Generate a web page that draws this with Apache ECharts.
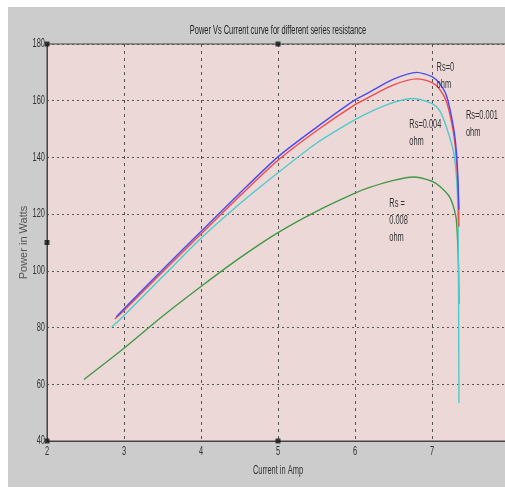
<!DOCTYPE html>
<html>
<head>
<meta charset="utf-8">
<script src="https://cdn.jsdelivr.net/npm/echarts@6/dist/echarts.min.js"></script>
<style>
  html, body { margin: 0; padding: 0; background: #ffffff; width: 505px; height: 491px; overflow: hidden; }
  #chart { position: absolute; left: 8px; top: 7px; width: 497px; height: 480px; }
</style>
</head>
<body>
<div id="chart"></div>
<script>
// Power (W) against current (A) for four series resistances
const rs0 = [
  [2.90, 83.8], [3.0, 86.6], [3.5, 100.4], [4.0, 113.9], [4.5, 127.3], [5.0, 140.2],
  [5.5, 150.6], [6.0, 160.3], [6.2, 163.2], [6.5, 167.6], [6.8, 170.0], [7.0, 168.5],
  [7.1, 166.0], [7.19, 161.6], [7.28, 150.5], [7.32, 141.0], [7.34, 130.5], [7.35, 121.5]
];
const rs0001 = [
  [2.88, 83.0], [3.0, 86.0], [3.5, 99.6], [4.0, 113.0], [4.5, 126.3], [5.0, 139.0],
  [5.5, 149.4], [6.0, 158.6], [6.2, 161.5], [6.5, 165.6], [6.8, 167.7], [7.0, 166.4],
  [7.1, 164.0], [7.19, 159.5], [7.28, 148.5], [7.32, 138.5], [7.34, 127.0], [7.35, 115.6]
];
const rs0004 = [
  [2.84, 80.2], [3.0, 84.2], [3.5, 97.9], [4.0, 111.5], [4.5, 123.6], [5.0, 134.6],
  [5.5, 145.0], [6.0, 153.3], [6.2, 156.1], [6.5, 159.4], [6.76, 160.8], [7.0, 159.0],
  [7.1, 156.5], [7.19, 150.5], [7.28, 142.0], [7.31, 135.6], [7.33, 127.5], [7.34, 115.0],
  [7.345, 90.0], [7.35, 53.4]
];
const rs0008 = [
  [2.48, 61.7], [3.0, 72.7], [3.5, 84.0], [4.0, 94.5], [4.5, 104.5], [5.0, 113.5],
  [5.5, 121.0], [6.0, 127.4], [6.2, 129.5], [6.5, 131.9], [6.76, 133.1], [7.0, 131.6],
  [7.1, 129.8], [7.23, 126.0], [7.31, 119.1], [7.33, 112.0], [7.345, 101.0], [7.35, 88.3]
];

const seriesNames = ['Rs=0', 'Rs=0.001', 'Rs=0.004', 'Rs=0.008'];
const xTicks = [2, 3, 4, 5, 6, 7];
const yTicks = [40, 60, 80, 100, 120, 140, 160, 180];
const titleText = 'Power Vs Current curve for different series resistance';
const xName = 'Current in Amp';
const yName = 'Power in Watts';
const annotations = ['Rs=0\nohm', 'Rs=0.001\nohm', 'Rs=0.004\nohm', 'Rs =\n0.008\nohm'];
// anchor (top-left) of each annotation, in axis units
const annotationAnchors = [[7.06, 174.7], [7.44, 157.6], [6.705, 154.6], [6.445, 126.8]];
// figure selection handles at the axes corners and mid-points
const handles = [[2, 180], [5, 180], [2, 40], [5, 40], [2, 110]];

const FONT = '"Liberation Sans", Arial, sans-serif';
const SQUEEZE = 0.62;   // narrow lettering

const chart = echarts.init(document.getElementById('chart'), null, { renderer: 'canvas' });

function lineSeries(name, data, color) {
  return {
    name: name, type: 'line', data: data, showSymbol: false, smooth: 0.25,
    lineStyle: { color: color, width: 1.4 }, z: 3
  };
}

chart.setOption({
  backgroundColor: '#cccccc',
  animation: false,
  grid: {
    left: 39, top: 37, right: -4, bottom: 46, outerBoundsMode: 'none', containLabel: false,
    show: true, backgroundColor: '#edd8d8', borderColor: '#444', borderWidth: 1
  },
  xAxis: {
    type: 'value', min: 2, max: 8, interval: 1,
    axisLine: { show: true, lineStyle: { color: '#444' } },
    axisTick: { show: false },
    axisLabel: { show: false },
    splitLine: { show: true, lineStyle: { color: '#555', type: [3, 4], width: 1 } }
  },
  yAxis: {
    type: 'value', min: 40, max: 180, interval: 20,
    name: yName, nameLocation: 'middle', nameGap: 18,
    nameTextStyle: { fontFamily: FONT, fontSize: 11, color: '#555' },
    axisLine: { show: true, lineStyle: { color: '#444' } },
    axisTick: { show: false },
    axisLabel: { show: false },
    splitLine: { show: true, lineStyle: { color: '#555', type: [2, 3], width: 1 } }
  },
  series: [
    lineSeries(seriesNames[3], rs0008, '#3f9a45'),
    lineSeries(seriesNames[2], rs0004, '#4fcaca'),
    lineSeries(seriesNames[1], rs0001, '#f04a4a'),
    lineSeries(seriesNames[0], rs0, '#4a4af0'),
    {
      name: 'handles', type: 'scatter', data: handles, symbol: 'rect', symbolSize: 5,
      itemStyle: { color: '#111' }, z: 5, silent: true
    }
  ]
});

// squeezed text drawn at a pixel position
function narrowText(x, y, text, size, align, vAlign, color, lineHeight) {
  return {
    type: 'text', x: x, y: y, scaleX: SQUEEZE, z: 10, silent: true,
    style: { text: text, font: size + 'px ' + FONT, fill: color,
      textAlign: align, textVerticalAlign: vAlign, lineHeight: lineHeight || size + 2 }
  };
}

const px = v => chart.convertToPixel({ gridIndex: 0 }, v);
const gridTop = px([2, 180])[1];
const gridBottom = px([2, 40])[1];
const gridLeft = px([2, 40])[0];
const gridMidX = px([5, 40])[0];

const texts = [];
xTicks.forEach(v => {
  const p = px([v, 40]);
  texts.push(narrowText(p[0], gridBottom + 4, String(v), 12, 'center', 'top', '#333'));
});
yTicks.forEach(v => {
  const p = px([2, v]);
  texts.push(narrowText(gridLeft - 2, p[1], String(v), 12, 'right', 'middle', '#333'));
});
texts.push(narrowText(gridMidX, gridTop - 13, titleText, 12, 'center', 'middle', '#222'));
texts.push(narrowText(gridMidX, gridBottom + 30, xName, 12, 'center', 'middle', '#333'));
annotations.forEach((t, i) => {
  const p = px(annotationAnchors[i]);
  texts.push(narrowText(p[0], p[1], t, 12, 'left', 'top', '#333', 17));
});

chart.setOption({ graphic: texts });
</script>
</body>
</html>
